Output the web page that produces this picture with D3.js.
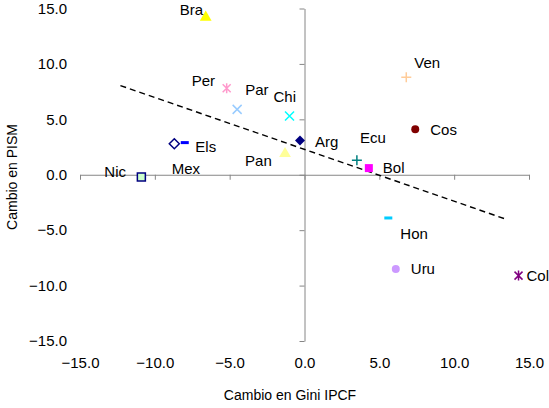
<!DOCTYPE html>
<html>
<head>
<meta charset="utf-8">
<script src="https://cdn.jsdelivr.net/npm/d3@7"></script>
<style>
  body { margin: 0; background: #fff; }
  svg { display: block; font-family: "Liberation Sans", Arial, sans-serif; }
</style>
</head>
<body>
<svg width="549" height="408"></svg>
<script>
// data
var countries   = ["Bra", "Per", "Par", "Chi", "Arg", "Pan", "Els", "Mex", "Nic", "Ecu", "Bol", "Ven", "Cos", "Hon", "Uru", "Col"];
var giniChange  = [-6.6, -5.2, -4.5, -1.0, -0.3, -1.3, -8.7, -8.0, -10.9, 3.5, 4.3, 6.8, 7.4, 5.6, 6.1, 14.3];
var pismChange  = [14.2, 7.8, 5.9, 5.3, 3.1, 1.9, 2.8, 2.9, -0.2, 1.3, 0.6, 8.8, 4.1, -3.9, -8.5, -9.1];
var tickValues  = [-15, -10, -5, 0, 5, 10, 15];
// trend line (as drawn in the original)
var trendRange  = [-12.3, 13.5];
var trendSlope  = -0.468;
var trendIntercept = 2.29;

// marker look per country
var markerShape = ["triangle", "star", "x", "x", "diamond", "triangle", "diamondOpen", "dash", "squareOpen", "plus", "square", "plus", "circle", "dash", "circle", "star"];
var markerColor = ["#ffff00", "#ff99cc", "#99ccff", "#00ffff", "#000080", "#ffff99", "#000080", "#0000ff", "#000080", "#008080", "#ff00ff", "#ffcc99", "#800000", "#00ccff", "#cc99ff", "#800080"];
// label offsets (pixels from the marker, left edge / vertical middle)
var labelOffset = {
  Bra: [-26, -8], Per: [-35, -8], Par: [8, -20], Chi: [-16, -19], Arg: [15, 1],
  Pan: [-40, 7], Els: [21, 3], Mex: [-13, 26], Nic: [-37, -5], Ecu: [3, -23],
  Bol: [14, 0], Ven: [8, -14], Cos: [15, 0], Hon: [12, 16], Uru: [15, 0], Col: [8, 0]
};

var points = countries.map(function(c, i) {
  return {name: c, x: giniChange[i], y: pismChange[i], shape: markerShape[i], color: markerColor[i]};
});

var svg = d3.select("svg");

var x = d3.scaleLinear().domain([-15, 15]).range([80, 529]);
var y = d3.scaleLinear().domain([-15, 15]).range([341, 8.5]);

var axisColor = "#868686";

// x axis line through y = 0
svg.append("g")
    .attr("transform", "translate(0," + y(0) + ")")
    .call(d3.axisBottom(x).tickValues(tickValues).tickSize(5).tickSizeOuter(0).tickFormat(""))
    .call(function(g) { g.selectAll("path, line").attr("stroke", axisColor); });

// y axis line through x = 0
svg.append("g")
    .attr("transform", "translate(" + x(0) + ",0)")
    .call(d3.axisLeft(y).tickValues(tickValues).tickSize(5).tickSizeOuter(0).tickFormat(""))
    .call(function(g) { g.selectAll("path, line").attr("stroke", axisColor); });

// tick labels sit at the low side of the plot
svg.append("g")
    .attr("transform", "translate(0,357)")
    .call(d3.axisBottom(x).tickValues(tickValues).tickSize(0).tickPadding(0).tickFormat(d3.format(".1f")))
    .call(function(g) { g.select(".domain").remove(); })
    .selectAll("text")
      .attr("font-size", 15)
      .attr("font-family", "Liberation Sans, Arial, sans-serif")
      .attr("fill", "#000");

svg.append("g")
    .attr("transform", "translate(67,0)")
    .call(d3.axisLeft(y).tickValues(tickValues).tickSize(0).tickPadding(0).tickFormat(d3.format(".1f")))
    .call(function(g) { g.select(".domain").remove(); })
    .selectAll("text")
      .attr("font-size", 15)
      .attr("font-family", "Liberation Sans, Arial, sans-serif")
      .attr("fill", "#000");

// axis titles
svg.append("text")
    .attr("x", 290)
    .attr("y", 400)
    .attr("text-anchor", "middle")
    .attr("font-size", 14)
    .text("Cambio en Gini IPCF");

svg.append("text")
    .attr("transform", "translate(17,177) rotate(-90)")
    .attr("text-anchor", "middle")
    .attr("font-size", 14)
    .text("Cambio en PISM");

// dashed trend line
var line = d3.line().x(function(d) { return x(d); }).y(function(d) { return y(trendSlope * d + trendIntercept); });
svg.append("path")
    .attr("d", line(trendRange))
    .attr("fill", "none")
    .attr("stroke", "#000")
    .attr("stroke-width", 1.4)
    .attr("stroke-dasharray", "6,4");

// marker drawing
function markerPath(shape) {
  switch (shape) {
    case "triangle": return d3.symbol(d3.symbolTriangle, 60)();
    case "diamond":
    case "diamondOpen": return "M0,-5L5,0L0,5L-5,0Z";
    case "square":
    case "squareOpen": return "M-4,-4H4V4H-4Z";
    case "circle": return d3.symbol(d3.symbolCircle, 50)();
    case "x": return "M-4.5,-4.5L4.5,4.5M-4.5,4.5L4.5,-4.5";
    case "plus": return "M-5,0H5M0,-5V5";
    case "star": return "M-4,-4L4,4M-4,4L4,-4M0,-5V5";
    case "dash": return "M-4,0H4";
  }
}

var marks = svg.append("g")
  .selectAll("g")
  .data(points)
  .join("g")
    .attr("transform", function(d) { return "translate(" + x(d.x) + "," + y(d.y) + ")"; });

marks.append("path")
    .attr("d", function(d) { return markerPath(d.shape); })
    .attr("fill", function(d) {
      if (d.shape === "diamondOpen") return "#fff";
      if (d.shape === "squareOpen") return "#ccffcc";
      if (d.shape === "x" || d.shape === "plus" || d.shape === "star" || d.shape === "dash") return "none";
      return d.color;
    })
    .attr("stroke", function(d) {
      if (d.shape === "diamondOpen" || d.shape === "squareOpen") return d.color;
      if (d.shape === "x" || d.shape === "plus" || d.shape === "star") return d.color;
      if (d.shape === "dash") return d.color;
      return "none";
    })
    .attr("stroke-width", function(d) { return d.shape === "dash" ? 3 : 1.5; });

marks.append("text")
    .attr("x", function(d) { return labelOffset[d.name][0]; })
    .attr("y", function(d) { return labelOffset[d.name][1]; })
    .attr("dy", "0.35em")
    .attr("font-size", 15)
    .attr("fill", "#000")
    .text(function(d) { return d.name; });
</script>
</body>
</html>
